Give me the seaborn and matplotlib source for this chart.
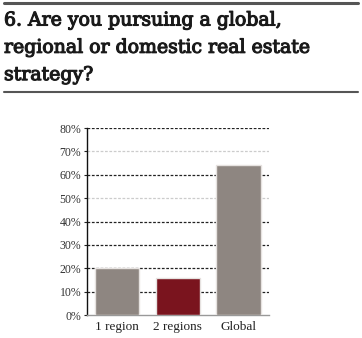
import matplotlib
matplotlib.use("Agg")
import matplotlib.pyplot as plt
import matplotlib.patheffects as pe
import seaborn as sns
import pandas as pd
from matplotlib.lines import Line2D

categories = ["1 region", "2 regions", "Global"]
shares = [20, 16, 64]
bar_colors = ["#8e8681", "#7a141e", "#8e8681"]
y_ticks = [0, 10, 20, 30, 40, 50, 60, 70, 80]
tick_labels = [f"{t}%" for t in y_ticks]
title_lines = ["6. Are you pursuing a global,",
               "regional or domestic real estate",
               "strategy?"]

sns.set_theme(style="white")
plt.rcParams["font.family"] = ["Liberation Serif", "DejaVu Serif"]

W, H = 362, 338
fig = plt.figure(figsize=(W / 100, H / 100), dpi=100)

# header rules and question text, one line per baseline
fig.add_artist(Line2D([4 / W, 358 / W], [1 - 3 / H, 1 - 3 / H], color="#555555", lw=2.2))
fig.add_artist(Line2D([4 / W, 358 / W], [1 - 92 / H, 1 - 92 / H], color="#555555", lw=1.5))
for i, line in enumerate(title_lines):
    fig.text(4 / W, 1 - (25.5 + 27.3 * i) / H, line, ha="left", va="baseline",
             fontsize=13.6, family="DejaVu Serif", color="#1a1a1a",
             path_effects=[pe.withStroke(linewidth=0.8, foreground="#1a1a1a")])

ax = fig.add_axes([0.2395, 0.068, 0.5035, 0.553])
df = pd.DataFrame({"category": categories, "share": shares})
sns.barplot(data=df, x="category", y="share", hue="category", palette=bar_colors,
            saturation=1, width=0.73, edgecolor="#e6e2e0", linewidth=1.0,
            legend=False, ax=ax, zorder=3)

ax.set_ylim(0, 80)
ax.set_xlim(-0.5, 2.5)
ax.set_yticks(y_ticks)
ax.set_yticklabels(tick_labels, fontsize=8.5, color="#333333")
ax.tick_params(axis="x", labelsize=9.5, colors="#222222", length=0, pad=4)
ax.tick_params(axis="y", length=2.5, width=0.8, color="#222222", pad=1.5, left=True)
ax.set_xlabel("")
ax.set_ylabel("")

# dashed gridlines; 50% and 70% drawn lighter
for t in y_ticks[1:]:
    light = t in (50, 70)
    ax.axhline(t, color="#cccccc" if light else "#222222", lw=0.9,
               ls=(0, (2.2, 1.3)), zorder=1)

for side in ("top", "right"):
    ax.spines[side].set_visible(False)
ax.spines["left"].set_color("#111111")
ax.spines["left"].set_linewidth(1.0)
ax.spines["bottom"].set_color("#999999")
ax.spines["bottom"].set_linewidth(1.0)

fig.savefig("out.png", dpi=100)
